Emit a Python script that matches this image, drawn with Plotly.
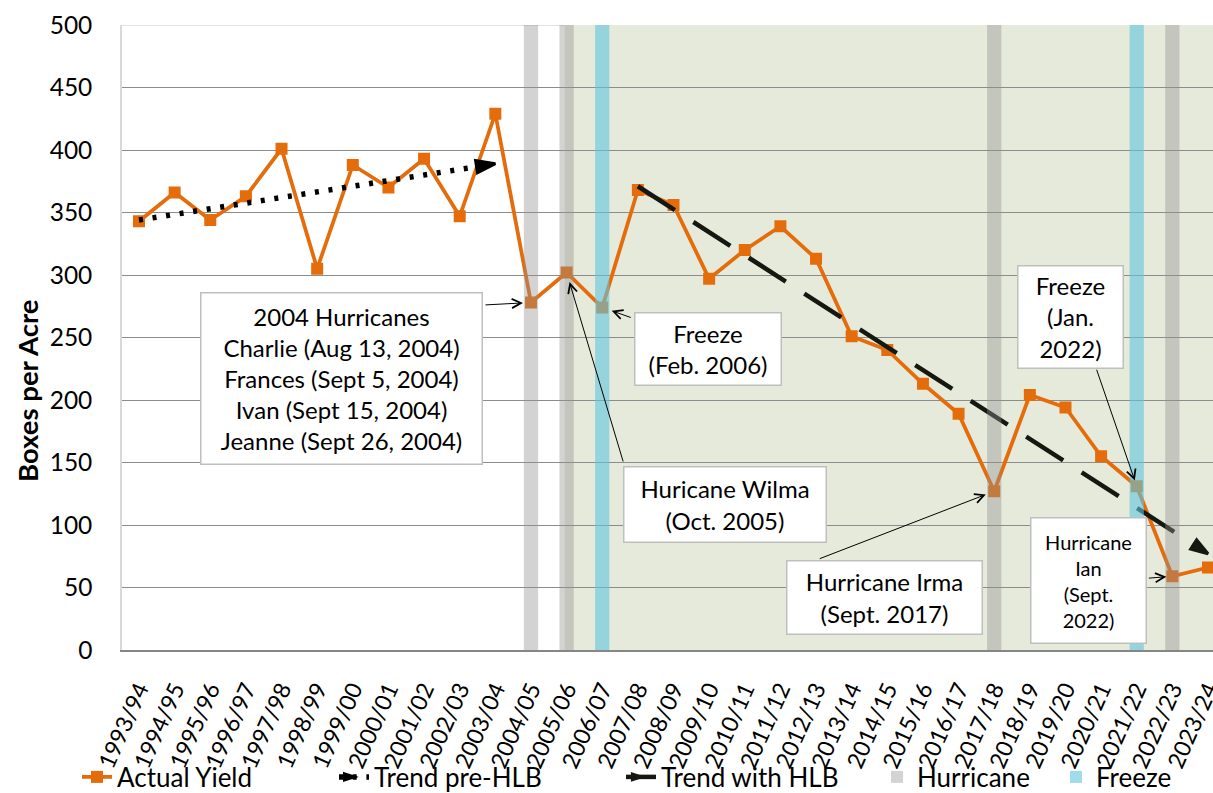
import plotly.graph_objects as go

# ---------------- data ----------------
seasons = ["1993/94", "1994/95", "1995/96", "1996/97", "1997/98", "1998/99", "1999/00",
           "2000/01", "2001/02", "2002/03", "2003/04", "2004/05", "2005/06", "2006/07",
           "2007/08", "2008/09", "2009/10", "2010/11", "2011/12", "2012/13", "2013/14",
           "2014/15", "2015/16", "2016/17", "2017/18", "2018/19", "2019/20", "2020/21",
           "2021/22", "2022/23", "2023/24"]
actual_yield = [343, 366, 344, 363, 401, 305, 388, 370, 393, 347, 429, 278, 302, 274,
                368, 356, 297, 320, 339, 313, 251, 240, 213, 189, 127, 204, 194, 155,
                131, 59, 66]

trend_pre_seasons = ["1993/94", "2003/04"]
trend_pre_values = [344, 389]
trend_hlb_seasons = ["2007/08", "2023/24"]
trend_hlb_values = [371, 77]

hurricane_seasons = ["2004/05", "2005/06", "2017/18", "2022/23"]
freeze_seasons = ["2006/07", "2021/22"]
hlb_start_season = "2005/06"

y_ticks = [0, 50, 100, 150, 200, 250, 300, 350, 400, 450, 500]

ORANGE = "#E46C0A"
FONT = "Lato"

# ---------------- geometry helpers (layout only) ----------------
L, R, T, B = 122, 0, 25, 143
W, H = 1213, 793
PW, PH = W - L - R, H - T - B


def px_x(p):
    return (p - L) / PW


def px_y(p):
    return (H - B - p) / PH


def idx(s):
    return seasons.index(s)


fig = go.Figure()

fig.add_trace(go.Scatter(
    x=seasons, y=actual_yield, mode="lines+markers", name="Actual Yield",
    line=dict(color=ORANGE, width=3.75),
    marker=dict(symbol="square", size=12, color=ORANGE),
    legend="legend", hoverinfo="x+y"))

fig.add_trace(go.Scatter(
    x=trend_pre_seasons, y=trend_pre_values, mode="lines+markers", name="Trend pre-HLB",
    line=dict(color="black", width=5.5, dash="4px,9.7px"),
    marker=dict(symbol="arrow", size=[0, 20], angleref="previous", color="black",
                opacity=1, line=dict(color="black", width=3)),
    legend="legend2"))

fig.add_trace(go.Scatter(
    x=trend_hlb_seasons, y=trend_hlb_values, mode="lines+markers", name="Trend with HLB",
    line=dict(color="#151810", width=4.5, dash="44px,22px"),
    marker=dict(symbol="arrow", size=[0, 18], angleref="previous", color="#151810",
                opacity=1, line=dict(color="#151810", width=3)),
    legend="legend3"))

shapes = []
# HLB period shading
shapes.append(dict(type="rect", xref="x", yref="y", x0=idx(hlb_start_season) - 0.05,
                   x1=len(seasons) + 1, y0=0, y1=500, fillcolor="#e6eadb",
                   line=dict(width=0), layer="below"))
# light top frame line
shapes.append(dict(type="line", xref="paper", yref="y", x0=0, x1=1, y0=500, y1=500,
                   line=dict(color="#d9d9d9", width=1.5), layer="between"))
for i, s in enumerate(hurricane_seasons):
    shapes.append(dict(type="rect", xref="x", yref="y", x0=idx(s) - 0.2, x1=idx(s) + 0.2,
                       y0=0, y1=500, fillcolor="rgba(145,145,145,0.4)", line=dict(width=0),
                       layer="above", name="Hurricane", showlegend=(i == 0),
                       legend="legend4", legendgroup="hurricane"))
for i, s in enumerate(freeze_seasons):
    shapes.append(dict(type="rect", xref="x", yref="y", x0=idx(s) - 0.2, x1=idx(s) + 0.2,
                       y0=0, y1=500, fillcolor="rgba(97,197,222,0.6)", line=dict(width=0),
                       layer="above", name="Freeze", showlegend=(i == 0),
                       legend="legend5", legendgroup="freeze"))

annotations = []
# text boxes: (text, center x px, center y px, width px, height px, font size)
boxes = [
    ("2004 Hurricanes<br>Charlie (Aug 13, 2004)<br>Frances (Sept 5, 2004)<br>"
     "Ivan (Sept 15, 2004)<br>Jeanne (Sept 26, 2004)", 341.5, 378.5, 283, 173, 24),
    ("Freeze<br>(Feb. 2006)", 708, 349, 148, 74, 24),
    ("Huricane Wilma<br>(Oct. 2005)", 725, 504.5, 204, 77, 24),
    ("Hurricane Irma<br>(Sept. 2017)", 884.5, 597.5, 197, 75, 24),
    ("Freeze<br>(Jan.<br>2022)", 1070.5, 317, 107, 104, 24),
    ("Hurricane<br>Ian<br>(Sept.<br>2022)", 1088.5, 580.5, 117, 127, 20),
]
for text, cx, cy, bw, bh, fs in boxes:
    annotations.append(dict(text=text, xref="paper", yref="paper", x=px_x(cx), y=px_y(cy),
                            xanchor="center", yanchor="middle", showarrow=False,
                            bgcolor="white", bordercolor="#bfbfbf", borderwidth=1.5,
                            borderpad=0, width=bw - 3, height=bh - 3, align="center",
                            valign="middle", font=dict(size=fs, family=FONT, color="black")))

# arrows: (season pointed at, tail offset x px, tail offset y px, standoff px)
arrows = [
    ("2004/05", -47, 2.5, 8),
    ("2006/07", 30, 10.5, 10),
    ("2005/06", 57, 190.5, 10),
    ("2017/18", -176, 68, 9),
    ("2021/22", -40.6, -118, 6),
    ("2022/23", -25, 2, 6),
]
for s, ax, ay, so in arrows:
    annotations.append(dict(text="", x=s, y=actual_yield[idx(s)], xref="x", yref="y",
                            ax=ax, ay=ay, showarrow=True, arrowhead=5, arrowsize=1.8,
                            arrowwidth=1, arrowcolor="black", standoff=so))

# y axis title (placed as in the original, below the axis centre)
annotations.append(dict(text="<b>Boxes per Acre</b>", xref="paper", yref="paper",
                        x=px_x(27), y=px_y(391), textangle=-90, showarrow=False,
                        xanchor="center", yanchor="middle",
                        font=dict(size=27.5, family=FONT, color="black")))

legend_common = dict(orientation="h", yanchor="middle", xanchor="left", y=px_y(777),
                     bgcolor="rgba(0,0,0,0)", font=dict(size=26, family=FONT, color="black"),
                     borderwidth=0)

fig.update_layout(
    width=W, height=H,
    margin=dict(l=L, r=R, t=T, b=B, pad=0, autoexpand=False),
    paper_bgcolor="white", plot_bgcolor="white",
    font=dict(family=FONT, size=24, color="black"),
    showlegend=True,
    xaxis=dict(type="category", range=[-0.477, 30.14], tickangle=-66, showgrid=False,
               showline=True, linecolor="#868686", linewidth=1.5, ticks="",
               ticklabelstandoff=15, automargin=False,
               tickfont=dict(size=23, family=FONT, color="black"), zeroline=False),
    yaxis=dict(range=[0, 500], tickvals=y_ticks, gridcolor="#8c8c8c", gridwidth=1,
               showline=True, linecolor="#d9d9d9", linewidth=1.5, mirror=True,
               zeroline=False, ticks="", ticklabelstandoff=23, automargin=False,
               tickfont=dict(size=24.5, family=FONT, color="black")),
    shapes=shapes,
    annotations=annotations,
    legend=dict(legend_common, x=px_x(77)),
    legend2=dict(legend_common, x=px_x(334)),
    legend3=dict(legend_common, x=px_x(621)),
    legend4=dict(legend_common, x=px_x(877)),
    legend5=dict(legend_common, x=px_x(1056)),
)

# the page's default body margin would shift the figure; remove it
fig.write_html("out.html", config={"displayModeBar": False},
               post_script="document.body.style.margin='0px';")
